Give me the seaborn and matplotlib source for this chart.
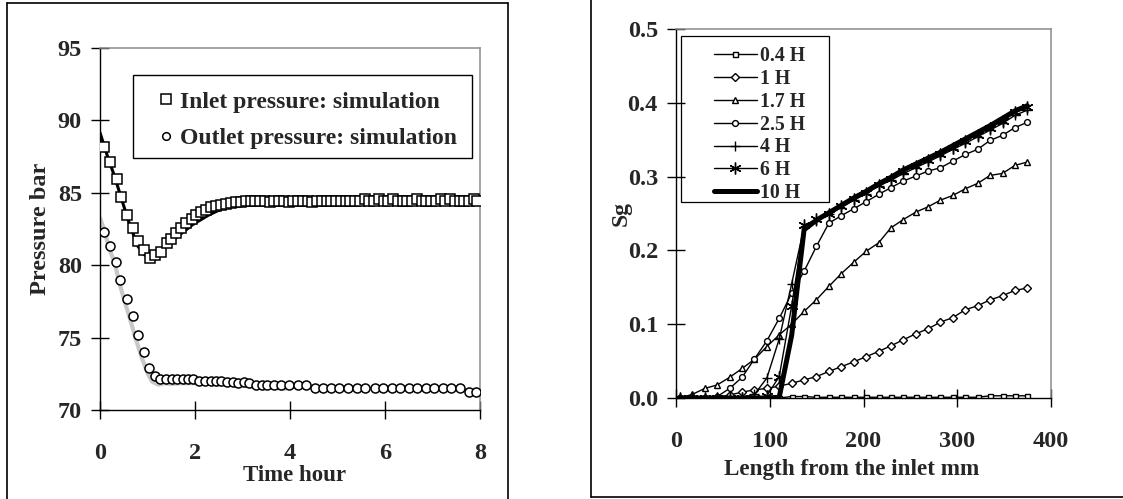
import numpy as np
import pandas as pd
import matplotlib
matplotlib.use("Agg")
import matplotlib.pyplot as plt
from matplotlib.lines import Line2D
from matplotlib.patches import Rectangle
import seaborn as sns

# ---------------- data: left panel (pressure vs time) ----------------
inlet_t = [0.08, 0.21, 0.35, 0.45, 0.56, 0.70, 0.80, 0.92, 1.05, 1.16, 1.28, 1.40, 1.50,
           1.61, 1.71, 1.82, 1.94, 2.03, 2.13, 2.24, 2.34, 2.45, 2.55, 2.66, 2.76, 2.87,
           2.97, 3.07, 3.17, 3.27, 3.37, 3.47, 3.57, 3.67, 3.77, 3.87, 3.97, 4.07, 4.17,
           4.27, 4.37, 4.47, 4.57, 4.67, 4.77, 4.87, 4.97, 5.07, 5.17, 5.27, 5.37, 5.47,
           5.57, 5.67, 5.77, 5.87, 5.97, 6.07, 6.17, 6.27, 6.37, 6.47, 6.57, 6.67, 6.77,
           6.87, 6.97, 7.07, 7.17, 7.27, 7.37, 7.47, 7.57, 7.67, 7.77, 7.87, 7.93]
inlet_p = [88.18, 87.15, 85.95, 84.73, 83.47, 82.55, 81.69, 81.05, 80.47, 80.70, 80.93, 81.50, 81.78,
           82.20, 82.58, 82.89, 83.18, 83.46, 83.65, 83.80, 84.00, 84.09, 84.16, 84.23, 84.27, 84.34,
           84.38, 84.40, 84.42, 84.40, 84.42, 84.40, 84.38, 84.40, 84.42, 84.40, 84.38, 84.40, 84.40,
           84.42, 84.40, 84.38, 84.40, 84.42, 84.40, 84.40, 84.42, 84.45, 84.40, 84.42, 84.40, 84.45,
           84.60, 84.42, 84.40, 84.60, 84.42, 84.40, 84.60, 84.42, 84.40, 84.45, 84.42, 84.60, 84.42,
           84.40, 84.45, 84.42, 84.60, 84.42, 84.60, 84.42, 84.40, 84.45, 84.42, 84.60, 84.45]

outlet_t = [0.08, 0.21, 0.33, 0.43, 0.56, 0.69, 0.79, 0.92, 1.03, 1.15,
            1.26, 1.39, 1.51, 1.62, 1.74, 1.86, 1.96,
            2.09, 2.21, 2.33, 2.44, 2.54,
            2.67, 2.79, 2.91, 3.03, 3.14,
            3.29, 3.42, 3.52, 3.66, 3.81, 3.98,
            4.17, 4.34,
            4.53, 4.70, 4.86, 5.04, 5.22, 5.42, 5.58, 5.78, 5.95, 6.14, 6.31, 6.50,
            6.67, 6.86, 7.03, 7.22, 7.39, 7.58,
            7.77, 7.92]
outlet_p = [82.30, 81.35, 80.20, 78.95, 77.70, 76.50, 75.20, 74.00, 72.90, 72.35,
            72.12, 72.12, 72.12, 72.12, 72.12, 72.12, 72.12,
            72.03, 72.03, 72.00, 72.02, 72.00,
            71.90, 71.90, 71.88, 71.90, 71.88,
            71.73, 71.75, 71.75, 71.75, 71.72, 71.72,
            71.70, 71.70,
            71.50, 71.50, 71.50, 71.50, 71.50, 71.50, 71.50, 71.50, 71.50, 71.50, 71.50, 71.50,
            71.50, 71.50, 71.50, 71.50, 71.50, 71.50,
            71.27, 71.27]

inlet_line_t = [0.0, 0.15, 0.31, 0.48, 0.64, 0.80, 0.94, 1.10, 1.30, 1.62, 1.95, 2.28, 2.60,
                2.93, 3.26, 3.60, 3.95]
inlet_line_p = [89.15, 87.60, 86.10, 84.30, 82.65, 81.30, 80.70, 80.60, 81.05, 81.95, 82.80,
                83.45, 83.95, 84.25, 84.40, 84.42, 84.42]

outlet_line_t = [0.0, 0.09, 0.18, 0.31, 0.41, 0.51, 0.64, 0.74, 0.87, 1.00, 1.10, 1.23, 1.35,
                 1.50, 1.70, 2.00, 2.30, 2.60, 3.00, 3.30, 3.60, 3.90]
outlet_line_p = [83.25, 82.45, 81.30, 80.15, 78.75, 77.60, 76.20, 75.05, 73.70, 72.55, 71.95,
                 71.75, 71.85, 71.80, 71.85, 71.85, 71.80, 71.75, 71.70, 71.60, 71.55, 71.45]

left_labels = ["Inlet pressure: simulation", "Outlet pressure: simulation"]
left_xticks = [0, 2, 4, 6, 8]
left_yticks = [70, 75, 80, 85, 90, 95]

# ---------------- data: right panel (Sg vs length) ----------------
length_mm = [4.3, 17.5, 30.8, 44.0, 57.2, 70.5, 83.7, 96.9, 110.1, 123.4, 136.6, 149.8, 163.1,
             176.3, 189.5, 202.8, 216.0, 229.2, 242.4, 255.7, 268.9, 282.1, 295.4, 308.6,
             321.8, 335.0, 348.3, 361.5, 374.7]
sg_04 = [0, 0, 0, 0, 0, 0, 0, 0, 0, 0.002, 0.002, 0.001, 0.001, 0.001, 0.001, 0.001, 0.001,
         0.001, 0.001, 0.001, 0.001, 0.001, 0.001, 0.001, 0.001, 0.003, 0.003, 0.003, 0.003]
sg_1 = [0, 0, 0, 0.001, 0.004, 0.008, 0.011, 0.013, 0.016, 0.020, 0.0245, 0.029, 0.036, 0.0425,
        0.049, 0.056, 0.063, 0.0707, 0.0788, 0.087, 0.0938, 0.1028, 0.109, 0.1196, 0.125, 0.133,
        0.1386, 0.1458, 0.149]
sg_17 = [0, 0.005, 0.013, 0.0177, 0.028, 0.040, 0.0525, 0.0697, 0.0856, 0.100, 0.1173, 0.1332,
         0.1513, 0.1685, 0.1839, 0.1988, 0.2101, 0.2305, 0.2418, 0.2518, 0.2591, 0.2681, 0.2745,
         0.2835, 0.2908, 0.3016, 0.3043, 0.3152, 0.3197]
sg_25 = [0, 0, 0, 0.002, 0.013, 0.028, 0.053, 0.0774, 0.108, 0.142, 0.1716, 0.2056, 0.237, 0.247,
         0.2564, 0.266, 0.2758, 0.285, 0.294, 0.3007, 0.3075, 0.312, 0.321, 0.330, 0.337, 0.349,
         0.356, 0.3664, 0.3736]
sg_4 = [0, 0, 0, 0, 0, 0.001, 0.005, 0.027, 0.080, 0.155, 0.232, 0.240, 0.249, 0.258, 0.268,
        0.277, 0.287, 0.295, 0.304, 0.312, 0.320, 0.328, 0.337, 0.345, 0.354, 0.363, 0.372,
        0.383, 0.390]
sg_6 = [0, 0, 0, 0, 0, 0, 0, 0.003, 0.029, 0.125, 0.234, 0.242, 0.250, 0.260, 0.270, 0.278,
        0.289, 0.297, 0.3075, 0.315, 0.323, 0.330, 0.339, 0.348, 0.357, 0.366, 0.375, 0.387,
        0.394]
sg_10 = [0, 0, 0, 0, 0, 0, 0, 0, 0.001, 0.085, 0.228, 0.241, 0.251, 0.261, 0.271, 0.280, 0.290,
         0.299, 0.309, 0.317, 0.325, 0.333, 0.342, 0.351, 0.360, 0.369, 0.379, 0.389, 0.396]
right_labels = ["0.4 H", "1 H", "1.7 H", "2.5 H", "4 H", "6 H", "10 H"]
right_xticks = [0, 100, 200, 300, 400]
right_yticks = [0.0, 0.1, 0.2, 0.3, 0.4, 0.5]

# ---------------- style ----------------
sns.set_style("ticks")
plt.rcParams["font.family"] = ["Liberation Serif", "DejaVu Serif"]
plt.rcParams["font.weight"] = "bold"
plt.rcParams["axes.labelweight"] = "bold"

W, H = 1123, 499
fig = plt.figure(figsize=(W / 100, H / 100), dpi=100)


def fx(px):
    return px / W


def fy(py):
    return 1 - py / H


GRAY = "#8c8c8c"
TICK_FS = 17.5


def style_axes(ax):
    for s in ["left", "bottom"]:
        ax.spines[s].set_color("black")
        ax.spines[s].set_linewidth(1.0)
    for s in ["top", "right"]:
        ax.spines[s].set_visible(True)
        ax.spines[s].set_color(GRAY)
        ax.spines[s].set_linewidth(1.1)
    ax.tick_params(axis="both", direction="inout", length=13, width=1.0, color="black",
                   labelsize=TICK_FS)
    ax.tick_params(axis="x", pad=17.5)
    ax.tick_params(axis="y", pad=6.5)
    ax.set_facecolor("white")


# ---------------- left panel ----------------
axL = fig.add_axes([fx(100), fy(410), fx(480) - fx(100), fy(48) - fy(410)])

sns.lineplot(x=outlet_line_t, y=outlet_line_p, ax=axL, color="#c8c8c8", lw=3.0,
             sort=False, legend=False, zorder=2)
sns.lineplot(x=inlet_line_t, y=inlet_line_p, ax=axL, color="black", lw=2.2,
             sort=False, legend=False, zorder=2)
sns.lineplot(x=inlet_t, y=inlet_p, ax=axL, linestyle="none", marker="s", markersize=7.0,
             mfc="white", mec="black", mew=1.1, sort=False, legend=False, zorder=3)
sns.lineplot(x=outlet_t, y=outlet_p, ax=axL, linestyle="none", marker="o", markersize=6.5,
             mfc="white", mec="black", mew=1.1, sort=False, legend=False, zorder=3)

axL.set_xlim(0, 8)
axL.set_ylim(70, 95)
axL.set_xticks(left_xticks)
axL.set_yticks(left_yticks)
axL.set_xticklabels([str(v) for v in left_xticks])
axL.set_yticklabels([str(v) for v in left_yticks])
style_axes(axL)
axL.set_xlabel("Time hour", fontsize=16.5, fontweight="bold")
axL.set_ylabel("Pressure bar", fontsize=17.5, fontweight="bold")
axL.xaxis.set_label_coords(0.513, -0.152)
axL.yaxis.set_label_coords(-0.13, 0.5)

hL = [Line2D([], [], ls="none", marker="s", markersize=7.0, mfc="white", mec="black", mew=1.1),
      Line2D([], [], ls="none", marker="o", markersize=5.5, mfc="white", mec="black", mew=1.1)]
legL = axL.legend(hL, left_labels, loc="upper left", bbox_to_anchor=(fx(157), fy(91)),
                  bbox_transform=fig.transFigure, frameon=False, borderpad=0, borderaxespad=0,
                  handlelength=0.8, handletextpad=0.16, labelspacing=0.64,
                  prop={"family": "Liberation Serif", "weight": "bold", "size": 17})
fig.add_artist(Rectangle((fx(133), fy(158)), fx(472) - fx(133), fy(75) - fy(158),
                         transform=fig.transFigure, fill=False, ec="black", lw=1.0))

# ---------------- right panel ----------------
axR = fig.add_axes([fx(676), fy(398), fx(1051) - fx(676), fy(29) - fy(398)])

series = [
    (sg_04, dict(marker="s", markersize=3.6, lw=1.0)),
    (sg_1, dict(marker="D", markersize=3.8, lw=1.0)),
    (sg_17, dict(marker="^", markersize=5.0, lw=1.0)),
    (sg_25, dict(marker="o", markersize=4.2, lw=1.0)),
    (sg_4, dict(marker="+", markersize=7.0, lw=1.0)),
    (sg_6, dict(marker=(6, 2, 0), markersize=8.5, lw=1.0)),
    (sg_10, dict(marker=None, lw=3.6)),
]
hR = []
for vals, kw in series:
    mk = kw.get("marker")
    extra = {}
    if mk is not None:
        extra = dict(marker=mk, markersize=kw["markersize"], mfc="white", mec="black", mew=1.0)
    sns.lineplot(x=length_mm, y=vals, ax=axR, color="black", lw=kw["lw"], sort=False,
                 legend=False, solid_joinstyle="round", **extra)
    hR.append(Line2D([], [], color="black", lw=kw["lw"], solid_capstyle="round", **extra))

axR.set_xlim(0, 400)
axR.set_ylim(0, 0.5)
axR.set_xticks(right_xticks)
axR.set_yticks(right_yticks)
axR.set_xticklabels([str(v) for v in right_xticks])
axR.set_yticklabels([f"{v:.1f}" for v in right_yticks])
style_axes(axR)
axR.set_xlabel("Length from the inlet mm", fontsize=16.7, fontweight="bold")
axR.set_ylabel("Sg", fontsize=17, fontweight="bold")
axR.xaxis.set_label_coords(0.467, -0.165)
axR.yaxis.set_label_coords(-0.117, 0.5)

legR = axR.legend(hR, right_labels, loc="upper left", bbox_to_anchor=(fx(714), fy(46)),
                  bbox_transform=fig.transFigure, frameon=False, borderpad=0, borderaxespad=0,
                  handlelength=2.18, handletextpad=0.15, labelspacing=0.145,
                  prop={"family": "Liberation Serif", "weight": "bold", "size": 14.2})
fig.add_artist(Rectangle((fx(681), fy(202)), fx(829) - fx(681), fy(36) - fy(202),
                         transform=fig.transFigure, fill=False, ec="black", lw=0.9))

# ---------------- outer panel frames ----------------
lw_box = 1.2
fig.add_artist(Line2D([fx(7), fx(7)], [-0.02, fy(3)], transform=fig.transFigure, color="black", lw=lw_box))
fig.add_artist(Line2D([fx(7), fx(508)], [fy(3), fy(3)], transform=fig.transFigure, color="black", lw=lw_box))
fig.add_artist(Line2D([fx(508), fx(508)], [fy(3), -0.02], transform=fig.transFigure, color="black", lw=lw_box))
fig.add_artist(Line2D([fx(591), fx(591)], [1.02, fy(497)], transform=fig.transFigure, color="black", lw=lw_box))
fig.add_artist(Line2D([fx(591), 1.02], [fy(497), fy(497)], transform=fig.transFigure, color="black", lw=lw_box))

fig.savefig("out.png", dpi=100, facecolor="white")
